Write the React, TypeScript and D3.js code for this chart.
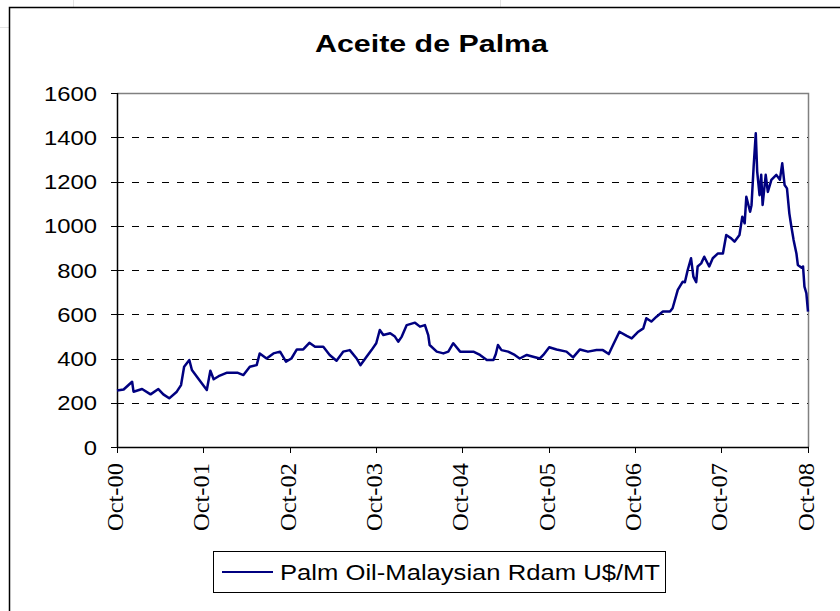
import React, { useEffect, useRef } from "react";
import * as d3 from "d3";

// Palm oil price (US$/MT)
const dates = [
  "2000-10-01", "2000-10-29", "2000-12-04", "2000-12-10", "2001-01-15", "2001-02-20",
  "2001-03-25", "2001-04-15", "2001-05-10", "2001-06-11", "2001-06-29", "2001-07-12",
  "2001-08-03", "2001-08-14", "2001-09-12", "2001-10-16", "2001-10-31", "2001-11-14",
  "2001-12-05", "2002-01-10", "2002-02-22", "2002-03-20", "2002-04-16", "2002-05-15",
  "2002-05-28", "2002-06-26", "2002-07-25", "2002-08-22", "2002-09-16", "2002-10-09",
  "2002-11-01", "2002-11-28", "2002-12-24", "2003-01-17", "2003-02-21", "2003-03-20",
  "2003-04-18", "2003-05-16", "2003-06-13", "2003-07-12", "2003-07-28", "2003-08-23",
  "2003-09-13", "2003-10-03", "2003-10-18", "2003-11-02", "2003-12-01", "2003-12-21",
  "2004-01-04", "2004-01-19", "2004-02-09", "2004-03-15", "2004-04-05", "2004-04-26",
  "2004-05-10", "2004-05-16", "2004-06-15", "2004-07-13", "2004-08-03", "2004-08-24",
  "2004-09-22", "2004-10-19", "2004-11-17", "2004-12-15", "2005-01-13", "2005-02-10",
  "2005-02-20", "2005-03-01", "2005-03-16", "2005-04-13", "2005-05-11", "2005-06-01",
  "2005-07-01", "2005-07-28", "2005-08-25", "2005-09-09", "2005-10-04", "2005-11-04",
  "2005-12-16", "2006-01-13", "2006-02-11", "2006-03-17", "2006-04-22", "2006-05-19",
  "2006-06-13", "2006-07-01", "2006-07-28", "2006-08-28", "2006-09-18", "2006-10-16",
  "2006-11-06", "2006-11-19", "2006-12-10", "2007-01-01", "2007-01-28", "2007-02-27",
  "2007-03-10", "2007-04-01", "2007-04-22", "2007-05-01", "2007-05-13", "2007-05-27",
  "2007-06-06", "2007-06-18", "2007-06-24", "2007-07-09", "2007-07-22", "2007-08-12",
  "2007-08-27", "2007-09-18", "2007-10-09", "2007-10-23", "2007-11-13", "2007-11-27",
  "2007-12-18", "2007-12-30", "2008-01-09", "2008-01-16", "2008-02-01", "2008-02-07",
  "2008-02-16", "2008-02-25", "2008-03-02", "2008-03-12", "2008-03-19", "2008-03-25",
  "2008-04-07", "2008-04-16", "2008-05-01", "2008-05-22", "2008-06-06", "2008-06-16",
  "2008-06-26", "2008-07-06", "2008-07-16", "2008-07-24", "2008-08-03", "2008-08-15",
  "2008-08-21", "2008-09-06", "2008-09-12", "2008-09-18", "2008-09-26", "2008-10-03",
];

const prices = [
  255, 260, 295, 250, 262, 238,
  262, 238, 220, 250, 280, 363,
  393, 348, 306, 258, 345, 306,
  320, 336, 336, 325, 363, 370,
  423, 400, 423, 431, 386, 400,
  441, 441, 471, 453, 453, 416,
  390, 431, 438, 400, 370, 408,
  438, 469, 529, 506, 514, 499,
  476, 499, 551, 562, 544, 551,
  506, 461, 431, 423, 431, 469,
  431, 431, 431, 416, 393, 393,
  420, 461, 438, 431, 416, 400,
  416, 408, 400, 416, 451, 441,
  431, 405, 441, 431, 438, 438,
  420, 461, 521, 502, 491, 521,
  536, 582, 567, 589, 612, 612,
  627, 710, 747, 745, 800, 853,
  770, 745, 816, 830, 860, 816,
  853, 875, 875, 958, 943, 928,
  958, 1041, 1011, 1131, 1063, 1093,
  1267, 1418, 1245, 1138, 1230, 1094,
  1230, 1153, 1207, 1230, 1208, 1282,
  1184, 1169, 1056, 1000, 936, 875,
  823, 810, 816, 725, 695, 612,
];

const yTicks = [0, 200, 400, 600, 800, 1000, 1200, 1400, 1600];
const xTickDates = [
  "2000-10-01", "2001-10-01", "2002-10-01", "2003-10-01", "2004-10-01",
  "2005-10-01", "2006-10-01", "2007-10-01", "2008-10-01",
];
const title = "Aceite de Palma";
const seriesName = "Palm Oil-Malaysian Rdam U$/MT";

const W = 840;
const H = 611;
const plot = { left: 117, top: 93, right: 808, bottom: 447 };
const navy = "#000080";
const sans = "'Liberation Sans', Arial, sans-serif";

const App = () => {
  const svgRef = useRef<SVGSVGElement | null>(null);

  useEffect(() => {
    const parse = d3.utcParse("%Y-%m-%d");
    const data = dates.map((d, i) => ({ date: parse(d) as Date, value: prices[i] }));

    const svg = d3.select(svgRef.current);
    svg.selectAll("*").remove();

    // faint spreadsheet grid peeking out behind the chart
    const bg = svg.append("g").attr("stroke", "#e3e3e3").attr("stroke-width", 1);
    bg.append("line").attr("x1", 73.5).attr("x2", 73.5).attr("y1", 0).attr("y2", 7);
    bg.append("line").attr("x1", 500.5).attr("x2", 500.5).attr("y1", 0).attr("y2", 7);
    bg.append("line").attr("x1", 0).attr("x2", 9).attr("y1", 27.5).attr("y2", 27.5);

    // chart frame
    svg
      .append("rect")
      .attr("x", 9.5)
      .attr("y", 7.5)
      .attr("width", 900)
      .attr("height", 700)
      .attr("fill", "#fff")
      .attr("stroke", "#000")
      .attr("stroke-width", 1.5);

    const x = d3
      .scaleUtc()
      .domain([parse("2000-10-01") as Date, parse("2008-10-03") as Date])
      .range([plot.left, plot.right]);
    const y = d3.scaleLinear().domain([0, 1600]).range([plot.bottom, plot.top]);

    // title
    svg
      .append("text")
      .attr("x", 431.5)
      .attr("y", 52)
      .attr("text-anchor", "middle")
      .style("font-family", sans)
      .attr("font-weight", "bold")
      .attr("font-size", 24)
      .attr("textLength", 233)
      .attr("lengthAdjust", "spacingAndGlyphs")
      .text(title);

    // gridlines
    svg
      .append("g")
      .selectAll("line")
      .data(yTicks.filter((t) => t > 0 && t < 1600))
      .enter()
      .append("line")
      .attr("x1", plot.left)
      .attr("x2", plot.right)
      .attr("y1", (d) => Math.round(y(d)) + 0.5)
      .attr("y2", (d) => Math.round(y(d)) + 0.5)
      .attr("stroke", "#000")
      .attr("stroke-dasharray", "7,8");

    // plot border top / right
    svg
      .append("path")
      .attr("d", `M${plot.left},${plot.top + 0.5}H${plot.right + 0.5}V${plot.bottom}`)
      .attr("fill", "none")
      .attr("stroke", "#808080")
      .attr("stroke-width", 1.5);

    // y axis
    const yAxis = svg.append("g");
    yAxis
      .append("line")
      .attr("x1", plot.left + 0.5)
      .attr("x2", plot.left + 0.5)
      .attr("y1", plot.top)
      .attr("y2", plot.bottom)
      .attr("stroke", "#000")
      .attr("stroke-width", 1.5);
    yAxis
      .selectAll("line.tick")
      .data(yTicks)
      .enter()
      .append("line")
      .attr("class", "tick")
      .attr("x1", plot.left - 6)
      .attr("x2", plot.left)
      .attr("y1", (d) => Math.round(y(d)) + 0.5)
      .attr("y2", (d) => Math.round(y(d)) + 0.5)
      .attr("stroke", "#000");
    yAxis
      .selectAll("text")
      .data(yTicks)
      .enter()
      .append("text")
      .attr("x", 97)
      .attr("y", (d) => y(d) + 7.5)
      .attr("text-anchor", "end")
      .style("font-family", sans)
      .attr("font-size", 21)
      .attr("textLength", (d) => String(d).length * 13.25)
      .attr("lengthAdjust", "spacingAndGlyphs")
      .text((d) => String(d));

    // x axis
    const xAxis = svg.append("g");
    xAxis
      .append("line")
      .attr("x1", plot.left)
      .attr("x2", plot.right + 1)
      .attr("y1", plot.bottom + 0.5)
      .attr("y2", plot.bottom + 0.5)
      .attr("stroke", "#000")
      .attr("stroke-width", 1.5);
    const fmt = d3.utcFormat("%b-%y");
    const ticks = xTickDates.map((d) => parse(d) as Date);
    xAxis
      .selectAll("line.tick")
      .data(ticks)
      .enter()
      .append("line")
      .attr("class", "tick")
      .attr("x1", (d) => Math.round(x(d)) + 0.5)
      .attr("x2", (d) => Math.round(x(d)) + 0.5)
      .attr("y1", plot.bottom)
      .attr("y2", plot.bottom + 6)
      .attr("stroke", "#000");
    xAxis
      .selectAll("text")
      .data(ticks)
      .enter()
      .append("text")
      .attr("transform", (d) => `translate(${x(d) + 6},463) rotate(-90)`)
      .attr("text-anchor", "end")
      .style("font-family", "serif")
      .attr("font-size", 24)
      .attr("textLength", 68)
      .attr("lengthAdjust", "spacingAndGlyphs")
      .text((d) => fmt(d));

    // price line
    const line = d3
      .line<{ date: Date; value: number }>()
      .x((d) => x(d.date))
      .y((d) => y(d.value));
    svg
      .append("path")
      .datum(data)
      .attr("d", line)
      .attr("fill", "none")
      .attr("stroke", navy)
      .attr("stroke-width", 2.5)
      .attr("stroke-linejoin", "round");

    // legend
    const legend = svg.append("g");
    legend
      .append("rect")
      .attr("x", 213.5)
      .attr("y", 551.5)
      .attr("width", 452)
      .attr("height", 41)
      .attr("fill", "#fff")
      .attr("stroke", "#000");
    legend
      .append("line")
      .attr("x1", 222)
      .attr("x2", 273)
      .attr("y1", 572)
      .attr("y2", 572)
      .attr("stroke", navy)
      .attr("stroke-width", 2);
    legend
      .append("text")
      .attr("x", 280)
      .attr("y", 580)
      .style("font-family", sans)
      .attr("font-size", 22)
      .attr("textLength", 380)
      .attr("lengthAdjust", "spacingAndGlyphs")
      .text(seriesName);
  }, []);

  return (
    <svg
      ref={svgRef}
      width={W}
      height={H}
      style={{ position: "absolute", left: 0, top: 0, background: "#fff" }}
    />
  );
};

export default App;
